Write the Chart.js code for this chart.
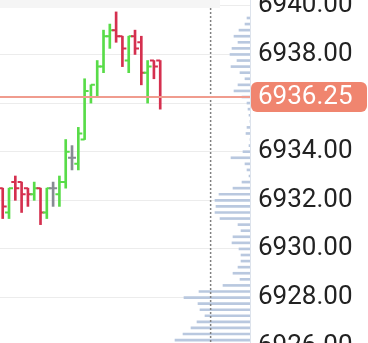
<!DOCTYPE html>
<html>
<head>
<meta charset="utf-8">
<script src="https://cdn.jsdelivr.net/npm/chart.js@4.4.1/dist/chart.umd.min.js"></script>
<style>
  html, body { margin: 0; padding: 0; background: #fff; overflow: hidden; }
  #wrap { position: relative; width: 368px; height: 370px; }
  #topband { position: absolute; left: 0; top: 0; width: 220px; height: 8px; background: #f5f5f5; }
</style>
</head>
<body>
<div id="wrap"><canvas id="chart"></canvas><div id="topband"></div></div>
<script>
// OHLC bars, oldest first
const opens  = [6932.5, 6931.5, 6932.75, 6932.75, 6932.5, 6932.25, 6932.5, 6931.5, 6932.5, 6932.25, 6932.75, 6933.75, 6933.5,
                6934.5, 6936.25, 6936.25, 6937.5, 6938.75, 6939.0, 6938.75, 6937.75, 6938.75, 6938.5, 6937.25, 6937.75, 6937.75];
const highs  = [6932.5, 6932.5, 6933.0, 6932.75, 6932.5, 6932.75, 6932.5, 6932.5, 6932.75, 6933.0, 6934.5, 6934.25, 6935.0,
                6937.0, 6936.75, 6937.75, 6939.0, 6939.25, 6939.75, 6938.75, 6938.75, 6939.0, 6938.75, 6937.75, 6937.75, 6937.75];
const lows   = [6931.25, 6931.25, 6932.0, 6931.5, 6931.75, 6932.0, 6931.0, 6931.25, 6931.75, 6931.75, 6932.5, 6933.25, 6933.25,
                6934.5, 6936.0, 6936.25, 6937.25, 6938.25, 6938.5, 6937.5, 6937.25, 6938.0, 6936.75, 6936.0, 6937.0, 6935.75];
const closes = [6931.75, 6932.5, 6932.5, 6932.25, 6932.25, 6932.5, 6931.5, 6932.5, 6932.5, 6932.75, 6934.0, 6933.75, 6934.75,
                6936.5, 6936.75, 6937.5, 6938.75, 6939.0, 6938.75, 6938.25, 6938.75, 6938.25, 6937.25, 6937.5, 6937.5, 6936.25];

// volume profile, top price level first
const profilePrices = [6939.5, 6939.25, 6939.0, 6938.75, 6938.5, 6938.25, 6938.0, 6937.75, 6937.5, 6937.25, 6937.0,
  6936.75, 6936.5, 6936.25, 6936.0, 6935.75, 6935.5, 6935.25, 6935.0, 6934.75, 6934.5, 6934.25, 6934.0,
  6933.75, 6933.5, 6933.25, 6933.0, 6932.75, 6932.5, 6932.25, 6932.0, 6931.75, 6931.5, 6931.25, 6931.0,
  6930.75, 6930.5, 6930.25, 6930.0, 6929.75, 6929.5, 6929.25, 6929.0, 6928.75, 6928.5, 6928.25, 6928.0,
  6927.75, 6927.5, 6927.25, 6927.0, 6926.75, 6926.5, 6926.25];
const profileVolume = [3, 5, 11, 16, 12, 18, 20, 13, 19, 10, 5,
  12, 16, 8, 3, 2, 1, 0, 3, 4, 0, 1, 7,
  19, 5, 3, 1, 8, 17, 31, 35, 34, 35, 30, 12,
  9, 17, 18, 11, 9, 9, 12, 17, 10, 27, 51, 66,
  52, 50, 45, 53, 59, 67, 75];

const yTicks = [6926, 6928, 6930, 6932, 6934, 6936, 6938, 6940];
const lastPrice = 6936.25;
const markerIndex = 33;

const green = '#58dc48';
const red = '#d5304f';
const grey = '#878b93';
const barColors = opens.map((o, i) => closes[i] > o ? green : (closes[i] < o ? red : grey));

const ohlcTicks = {
  id: 'ohlcTicks',
  afterDatasetsDraw(chart) {
    const meta = chart.getDatasetMeta(1);
    const y = chart.scales.y;
    const ctx = chart.ctx;
    ctx.save();
    ctx.lineWidth = 2;
    meta.data.forEach((bar, i) => {
      const yo = y.getPixelForValue(opens[i]);
      const yc = y.getPixelForValue(closes[i]);
      ctx.strokeStyle = barColors[i];
      ctx.beginPath();
      ctx.moveTo(bar.x - 4, yo);
      ctx.lineTo(bar.x, yo);
      ctx.moveTo(bar.x, yc);
      ctx.lineTo(bar.x + 4, yc);
      ctx.stroke();
    });
    ctx.restore();
  }
};

const overlays = {
  id: 'overlays',
  afterDraw(chart) {
    const {ctx, chartArea} = chart;
    const x = chart.scales.x;
    const y = chart.scales.y;
    ctx.save();
    // dotted marker
    const mx = x.getPixelForValue(markerIndex);
    ctx.strokeStyle = '#808080';
    ctx.lineWidth = 1.5;
    ctx.setLineDash([2, 2]);
    ctx.beginPath();
    ctx.moveTo(mx, chartArea.top);
    ctx.lineTo(mx, chartArea.bottom);
    ctx.stroke();
    ctx.setLineDash([]);
    // last price line
    const py = y.getPixelForValue(lastPrice);
    ctx.strokeStyle = '#f09c8e';
    ctx.lineWidth = 2;
    ctx.beginPath();
    ctx.moveTo(chartArea.left, py);
    ctx.lineTo(chartArea.right, py);
    ctx.stroke();
    // price label
    ctx.fillStyle = '#f0856f';
    ctx.beginPath();
    ctx.roundRect(chartArea.right + 1, py - 15, chart.width - chartArea.right - 2, 30, 6);
    ctx.fill();
    ctx.fillStyle = '#fff';
    ctx.font = '26px Roboto';
    ctx.textBaseline = 'middle';
    ctx.textAlign = 'left';
    ctx.fillText(lastPrice.toFixed(2), chartArea.right + 8, py + 1);
    ctx.restore();
  }
};

new Chart(document.getElementById('chart'), {
  type: 'bar',
  data: {
    datasets: [{
      label: 'profile',
      indexAxis: 'y',
      xAxisID: 'xv',
      yAxisID: 'y',
      data: profilePrices.map((p, i) => ({ y: p, x: profileVolume[i] })),
      backgroundColor: '#b9c8df',
      barThickness: 2,
      maxBarThickness: 2,
      grouped: false
    }, {
      label: 'ohlc',
      xAxisID: 'x',
      yAxisID: 'y',
      data: opens.map((o, i) => ({ x: i, y: [lows[i], highs[i]] })),
      backgroundColor: barColors,
      barThickness: 2,
      maxBarThickness: 2,
      grouped: false
    }]
  },
  options: {
    responsive: true,
    maintainAspectRatio: false,
    animation: false,
    layout: { padding: 0 },
    plugins: { legend: { display: false }, tooltip: { enabled: false } },
    scales: {
      x: { type: 'linear', display: false, offset: false, min: -0.43, max: 39.25 },
      xv: { type: 'linear', axis: 'x', display: false, offset: false, reverse: true, min: 0, max: 250 },
      y: {
        type: 'linear',
        position: 'right',
        offset: false,
        min: 6925.02,
        max: 6940.24,
        afterBuildTicks: s => { s.ticks = yTicks.map(v => ({ value: v })); },
        afterFit: s => { s.width = 118; s.paddingTop = 0; s.paddingBottom = 0; },
        grid: { color: '#ececec', drawTicks: false, offset: false },
        border: { color: '#dde3ec' },
        ticks: {
          autoSkip: false,
          padding: 8,
          color: '#222',
          font: { family: 'Roboto', size: 26 },
          callback: v => v.toFixed(2)
        }
      }
    }
  },
  plugins: [ohlcTicks, overlays]
});
</script>
</body>
</html>
